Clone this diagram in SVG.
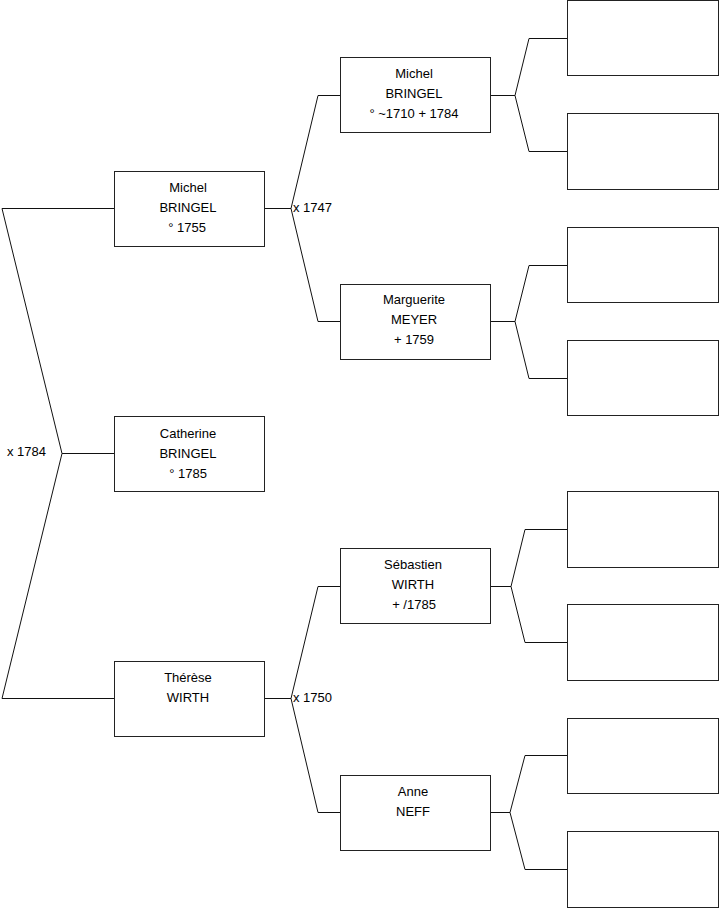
<svg xmlns="http://www.w3.org/2000/svg" width="719" height="908" viewBox="0 0 719 908">
<style>
.box{fill:#fff;stroke:#222;stroke-width:1}
.ln{fill:none;stroke:#111;stroke-width:1}
text{font-family:"Liberation Sans",Arial,sans-serif;font-size:13px;fill:#000}
.c{text-anchor:middle}
</style>
<rect width="719" height="908" fill="#fff"/>
<g id="connectors">
<polyline class="ln" points="114,208.5 2,208.5 62,453.5 2,698.5 114,698.5"/>
<line class="ln" x1="62" y1="453.5" x2="114" y2="453.5"/>
<polyline class="ln" points="340,95.5 318,95.5 291,208.5 318,321.5 340,321.5"/>
<line class="ln" x1="265" y1="208.5" x2="291" y2="208.5"/>
<polyline class="ln" points="340,586.5 318,586.5 291,698.5 318,812.5 340,812.5"/>
<line class="ln" x1="265" y1="698.5" x2="291" y2="698.5"/>
<polyline class="ln" points="567,38.5 529,38.5 515,95.5 529,151.5 567,151.5"/>
<line class="ln" x1="491" y1="95.5" x2="515" y2="95.5"/>
<polyline class="ln" points="567,265.5 529,265.5 515,321.5 529,378.5 567,378.5"/>
<line class="ln" x1="491" y1="321.5" x2="515" y2="321.5"/>
<polyline class="ln" points="567,529.5 525,529.5 511,586.5 525,642.5 567,642.5"/>
<line class="ln" x1="491" y1="586.5" x2="511" y2="586.5"/>
<polyline class="ln" points="567,755.5 525,755.5 510,812.5 525,869.5 567,869.5"/>
<line class="ln" x1="491" y1="812.5" x2="510" y2="812.5"/>
<text x="7" y="456">x 1784</text>
<text x="293" y="212">x 1747</text>
<text x="293" y="702">x 1750</text>
</g>
<g id="michel1"><rect class="box" x="114.5" y="171.5" width="150" height="75"/>
<text class="c" x="188" y="192">Michel</text><text class="c" x="188" y="212">BRINGEL</text><text class="c" x="187" y="232">° 1755</text></g>
<g id="catherine"><rect class="box" x="114.5" y="416.5" width="150" height="75"/>
<text class="c" x="188" y="438">Catherine</text><text class="c" x="188" y="458">BRINGEL</text><text class="c" x="188" y="478">° 1785</text></g>
<g id="therese"><rect class="box" x="114.5" y="661.5" width="150" height="75"/>
<text class="c" x="188" y="682">Thérèse</text><text class="c" x="188" y="702">WIRTH</text></g>
<g id="michel2"><rect class="box" x="340.5" y="57.5" width="150" height="75"/>
<text class="c" x="414" y="78">Michel</text><text class="c" x="414" y="98">BRINGEL</text><text class="c" x="414" y="118">° ~1710 + 1784</text></g>
<g id="marguerite"><rect class="box" x="340.5" y="284.5" width="150" height="75"/>
<text class="c" x="414" y="304">Marguerite</text><text class="c" x="414" y="324">MEYER</text><text class="c" x="414" y="344">+ 1759</text></g>
<g id="sebastien"><rect class="box" x="340.5" y="548.5" width="150" height="75"/>
<text class="c" x="413" y="569">Sébastien</text><text class="c" x="413" y="589">WIRTH</text><text class="c" x="414" y="609">+ /1785</text></g>
<g id="anne"><rect class="box" x="340.5" y="775.5" width="150" height="75"/>
<text class="c" x="413" y="796">Anne</text><text class="c" x="413" y="816">NEFF</text></g>
<g id="g3a"><rect class="box" x="567.5" y="0.5" width="151" height="75"/></g>
<g id="g3b"><rect class="box" x="567.5" y="113.5" width="151" height="76"/></g>
<g id="g3c"><rect class="box" x="567.5" y="227.5" width="151" height="75"/></g>
<g id="g3d"><rect class="box" x="567.5" y="340.5" width="151" height="75"/></g>
<g id="g3e"><rect class="box" x="567.5" y="491.5" width="151" height="76"/></g>
<g id="g3f"><rect class="box" x="567.5" y="604.5" width="151" height="76"/></g>
<g id="g3g"><rect class="box" x="567.5" y="718.5" width="151" height="75"/></g>
<g id="g3h"><rect class="box" x="567.5" y="831.5" width="151" height="76"/></g>
</svg>
